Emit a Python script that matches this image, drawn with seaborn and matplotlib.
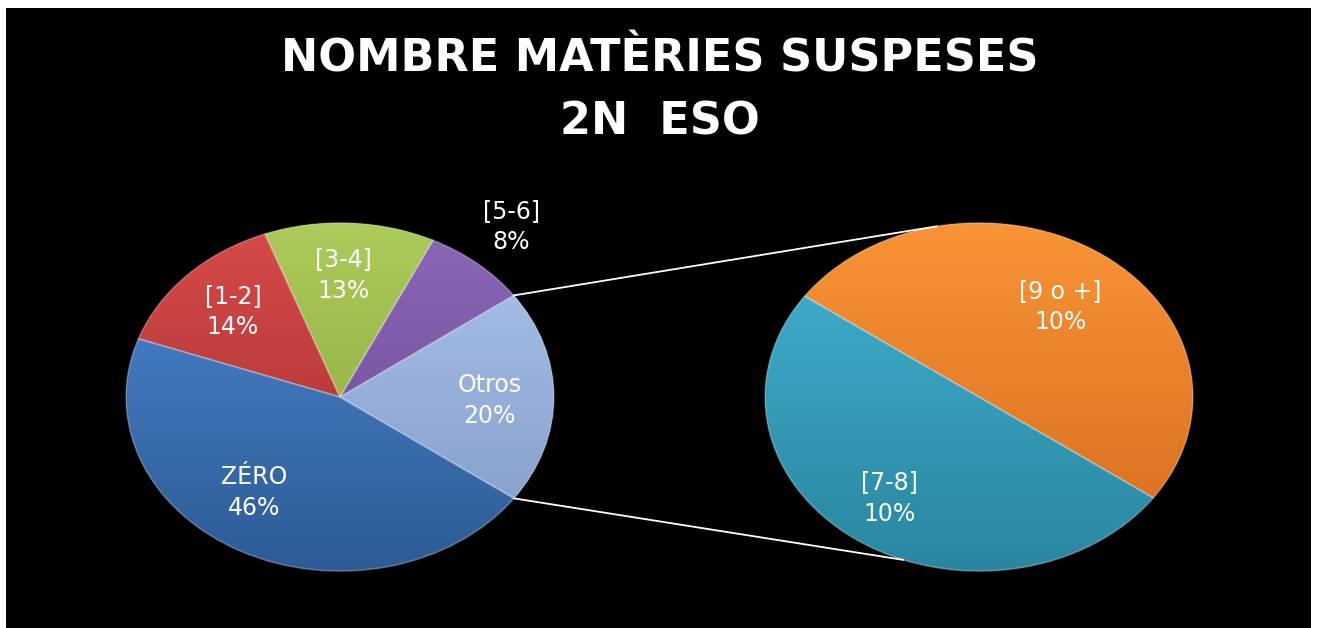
import numpy as np
import seaborn as sns
import matplotlib.pyplot as plt
from matplotlib.patches import Rectangle, Wedge, ConnectionPatch

sns.set_theme(style="dark")
plt.rcParams['font.family'] = ['DejaVu Sans']

# data (percent of students by number of failed subjects)
categories = ["ZÉRO", "[1-2]", "[3-4]", "[5-6]", "[7-8]", "[9 o +]"]
percent = [46, 14, 13, 8, 10, 10]
other_label = "Otros"
title_lines = ["NOMBRE MATÈRIES SUSPESES", "2N  ESO"]

# light (top) / dark (bottom) shades for each category
light = ["#4d89d3", "#d64b49", "#abcb5a", "#8c68b8", "#41b3d2", "#f89436"]
dark = ["#2d5b96", "#a22d2c", "#86a338", "#674891", "#2a86a0", "#d46b1c"]
other_light, other_dark = "#abc4ec", "#8199c6"

W, H = 1320, 628
fig = plt.figure(figsize=(W / 100, H / 100), dpi=100, facecolor="white")
fig.patches.append(Rectangle((6 / W, 0), 1305 / W, 620 / H, transform=fig.transFigure,
                             facecolor="black", edgecolor="none", zorder=-5))


def box(x0, y0, x1, y1):
    return [x0 / W, 1 - y1 / H, (x1 - x0) / W, (y1 - y0) / H]


ax1 = fig.add_axes(box(125, 222, 555, 572))
ax2 = fig.add_axes(box(764, 222, 1194, 572))
for ax in (ax1, ax2):
    ax.patch.set_alpha(0)

main_idx = [3, 2, 1, 0]   # [5-6], [3-4], [1-2], ZÉRO after "Otros"
second_idx = [5, 4]       # [9 o +], [7-8]
other_val = sum(percent[i] for i in second_idx)

main_vals = [other_val] + [percent[i] for i in main_idx]
main_light = [other_light] + [light[i] for i in main_idx]
main_dark = [other_dark] + [dark[i] for i in main_idx]
main_text = [f"{other_label}\n{other_val}%"] + [f"{categories[i]}\n{percent[i]}%" for i in main_idx]

sec_vals = [percent[i] for i in second_idx]
sec_light = [light[i] for i in second_idx]
sec_dark = [dark[i] for i in second_idx]
sec_text = [f"{categories[i]}\n{percent[i]}%" for i in second_idx]

grad = np.linspace(0, 1, 256).reshape(-1, 1)


def shaded_pie(ax, vals, c_light, c_dark, start):
    wedges, _ = ax.pie(vals, startangle=start, counterclock=True, radius=1,
                       colors=c_dark, wedgeprops=dict(linewidth=0))
    for w, cl, cd in zip(wedges, c_light, c_dark):
        cmap = sns.blend_palette([cd, cl], as_cmap=True)
        im = ax.imshow(grad, extent=(-1, 1, -1, 1), origin="lower", cmap=cmap,
                       aspect="auto", zorder=2)
        im.set_clip_path(w)
        ax.add_patch(Wedge((0, 0), 1, w.theta1, w.theta2, fill=False,
                           edgecolor=(1, 1, 1, 0.25), linewidth=1.2, zorder=3))
    ax.set_xlim(-1.005, 1.005)
    ax.set_ylim(-1.005, 1.005)
    ax.set_aspect("auto")
    ax.axis("off")
    return wedges


w1 = shaded_pie(ax1, main_vals, main_light, main_dark, -35.6)
w2 = shaded_pie(ax2, sec_vals, sec_light, sec_dark, -35.4)

# label positions inside each pie (axes data units)
main_pos = [(0.70, -0.02), (0.80, 0.98), (0.015, 0.70), (-0.50, 0.49), (-0.40, -0.55)]
sec_pos = [(0.38, 0.52), (-0.42, -0.58)]
for ax, texts, pos in [(ax1, main_text, main_pos), (ax2, sec_text, sec_pos)]:
    for t, (x, y) in zip(texts, pos):
        ax.text(x, y, t, ha="center", va="center", color="white", fontsize=17,
                linespacing=1.38, zorder=5, clip_on=False)

# connector lines between "Otros" and the second pie
for a, b in [(w1[0].theta2, 101.3), (w1[0].theta1, 249.3)]:
    con = ConnectionPatch(xyA=(np.cos(np.radians(a)), np.sin(np.radians(a))), coordsA=ax1.transData,
                          xyB=(np.cos(np.radians(b)), np.sin(np.radians(b))), coordsB=ax2.transData,
                          color="white", linewidth=1.3, zorder=1)
    fig.add_artist(con)

for line, y in zip(title_lines, [59, 122]):
    fig.text(660 / W, 1 - y / H, line, ha="center", va="center", color="white",
             fontsize=32, fontweight="bold")

fig.savefig("out.png", dpi=100, facecolor="white")
